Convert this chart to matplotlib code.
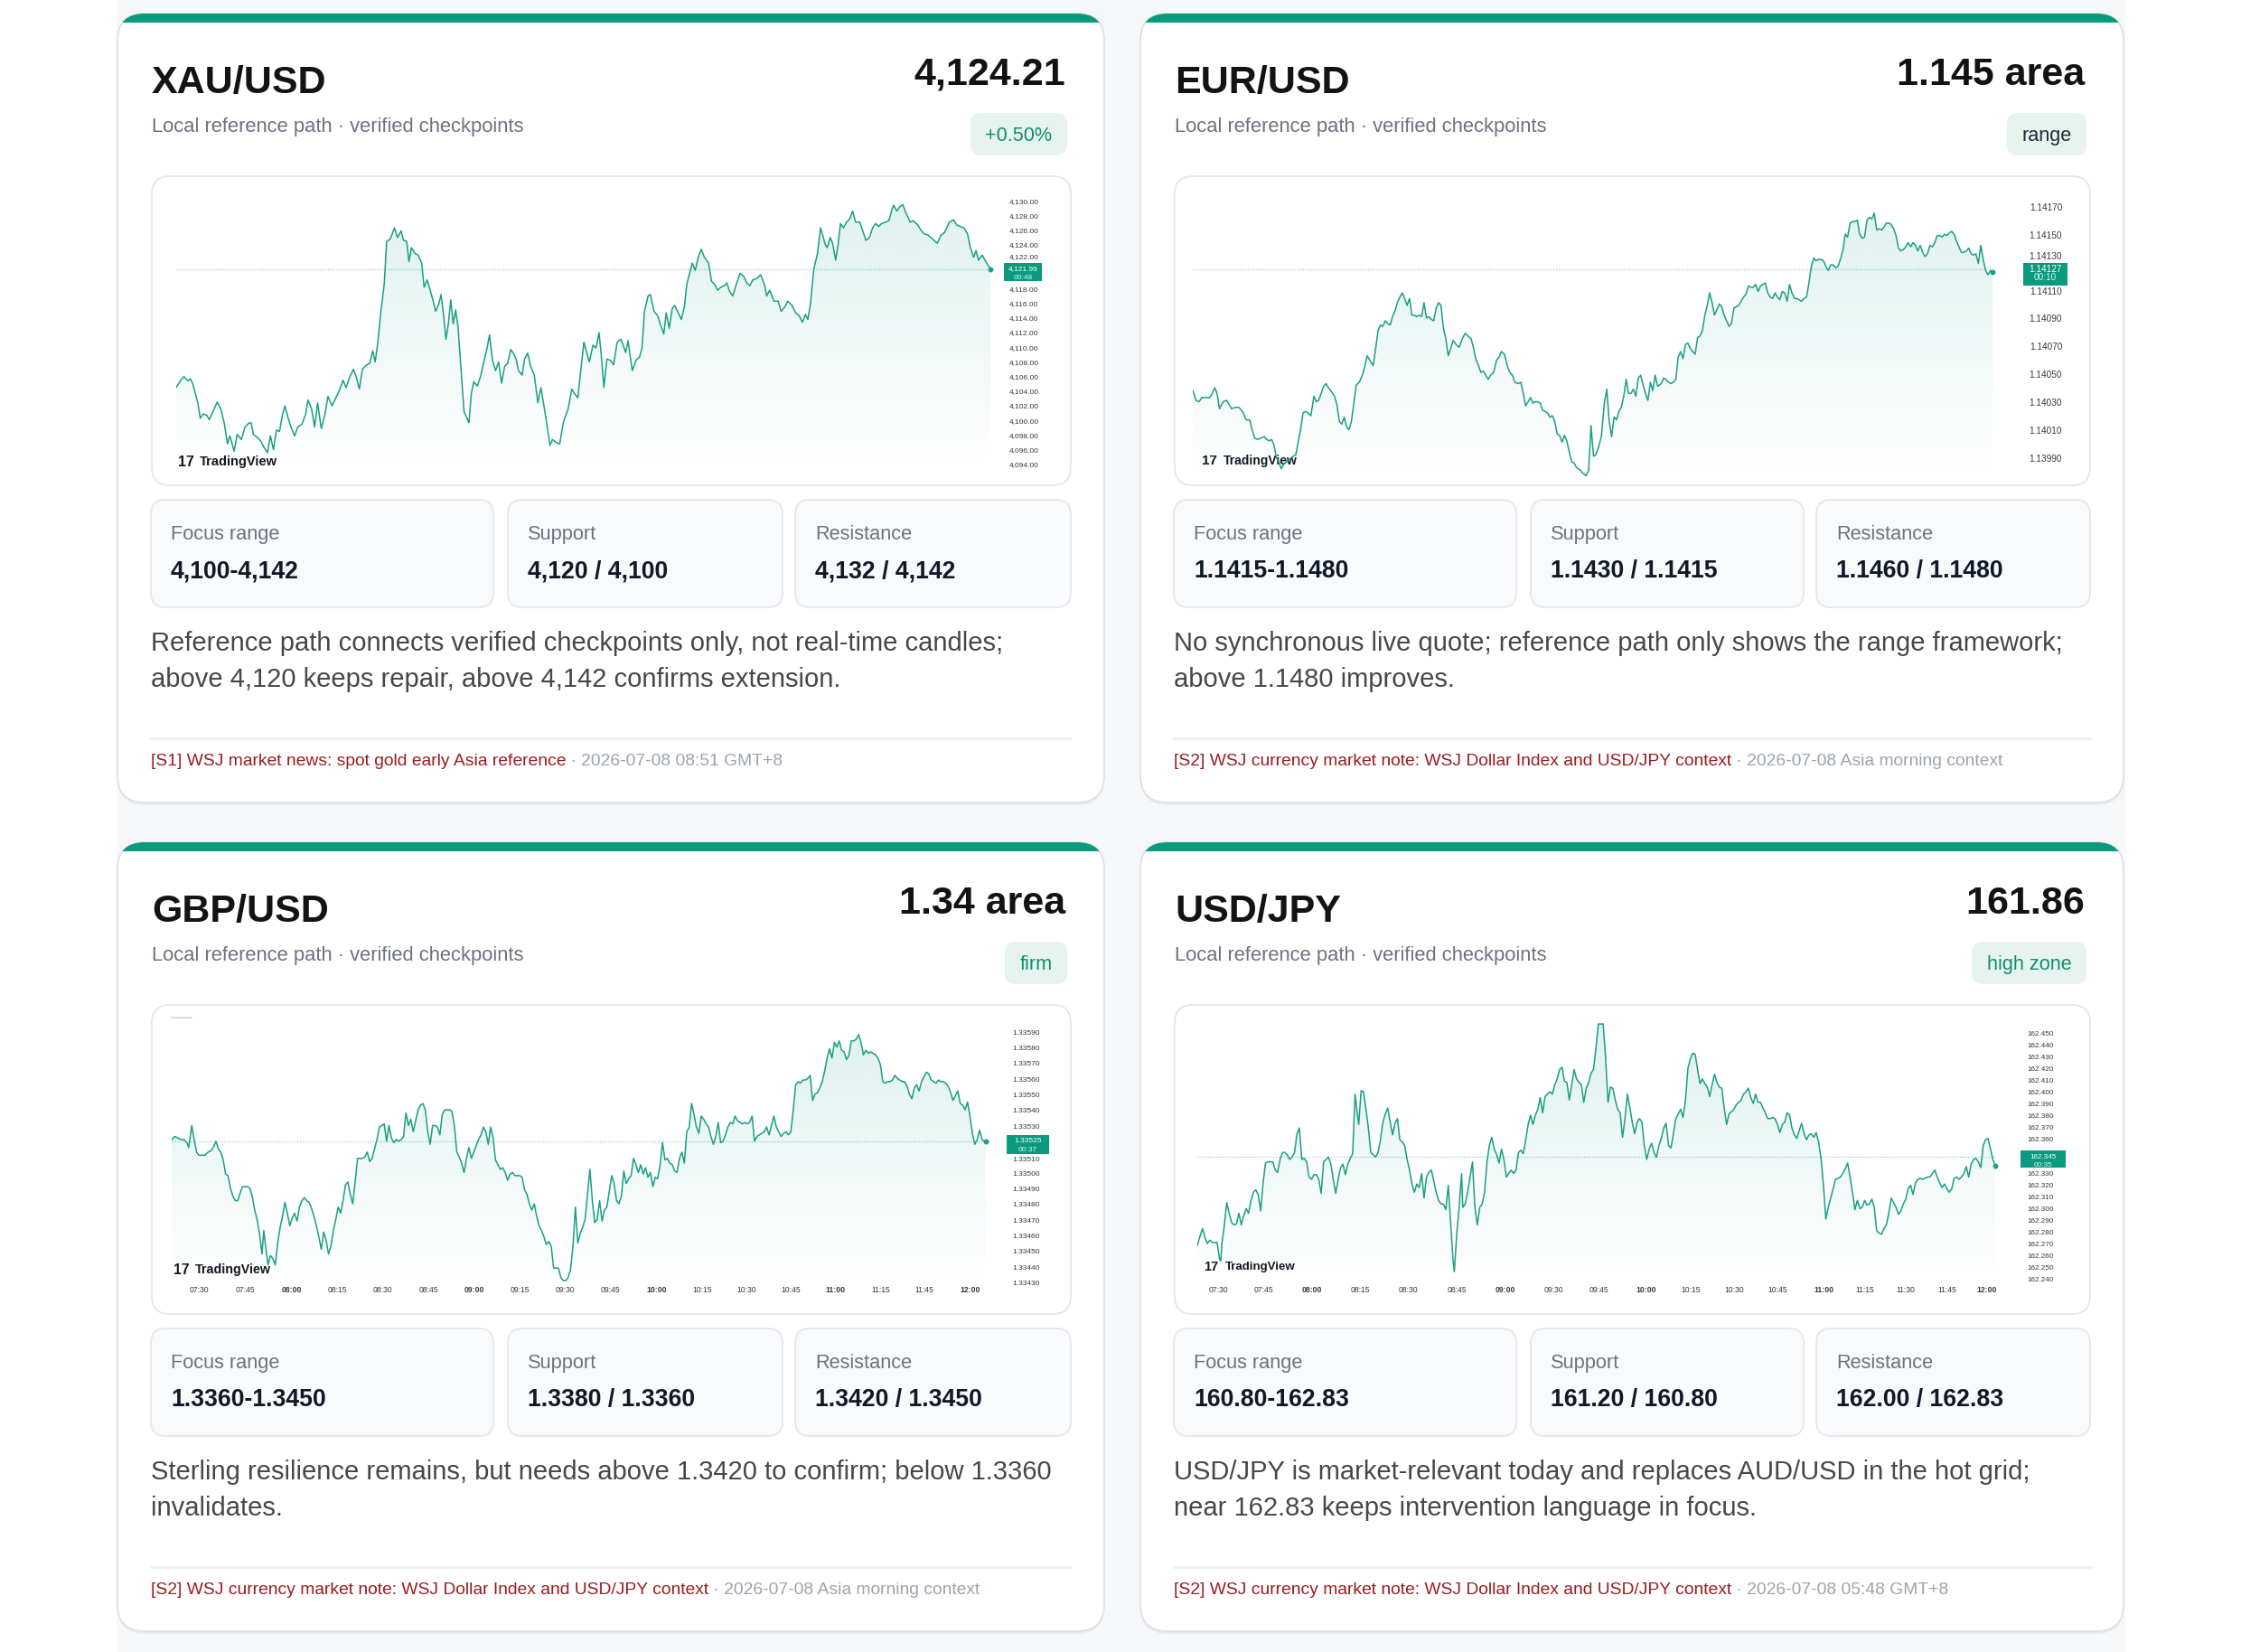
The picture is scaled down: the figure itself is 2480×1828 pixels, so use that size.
import numpy as np
import matplotlib
matplotlib.use("Agg")
import matplotlib.pyplot as plt
import matplotlib.colors as mcolors
from matplotlib.patches import FancyBboxPatch, Rectangle, PathPatch
from matplotlib.transforms import blended_transform_factory

plt.rcParams['font.family'] = ['Liberation Sans', 'DejaVu Sans']

# ---------------------------------------------------------------- data
# XAU/USD reference path (bar position, price)
xau_t = [52,60,65,72,76,80,88,92,97,103,
         107,113,120,126,132,137,141,148,153,160,
         166,172,176,180,186,192,197,203,208,213,
         218,223,228,232,237,242,248,253,260,266,
         270,276,281,286,292,298,303,310,316,322,
         328,333,338,345,350,355,360,367,372,377,
         381,385,390,396,400,406,413,418,424,428,
         433,437,441,447,452,458,462,467,472,477,
         481,486,490,494,498,502,506,510,514,518,
         522,528,536,540,544,550,555,560,566,570,
         575,580,585,590,595,600,605,610,614,618,
         624,628,633,638,644,650,655,660,664,670,
         674,680,686,692,700,706,710,716,720,726,
         730,735,741,746,751,755,759,764,770,775,
         781,787,790,795,799,806,812,818,822,826,
         832,836,842,848,852,858,862,867,872,876,
         882,887,892,896,900,905,910,915,920,925,
         932,937,942,947,952,958,962,967,972,977,
         984,990,995,1000,1005,1012,1018,1025,1028,1033,
         1040,1047,1052,1058,1063,1070,1076,1082,1087,1092,
         1096,1100,1106,1112,1117,1120,1125,1128,1133,1137,
         1142,1146,1150,1155,1160,1165,1170,1175,1182,1186,
         1192,1198,1203,1208,1213,1218,1225,1230,1235,1238,
         1243,1248,1253,1258,1265,1270,1278,1282,1288,1295,
         1302,1310,1316,1322,1330,1337,1342,1348,1354,1360,
         1364,1370,1374,1378,1384,1390,1398]
xau_v = [4104.6,4105.6,4106.1,4105.5,4105.8,4105.0,4102.5,4100.4,4101.0,4100.8,
         4100.2,4101.3,4102.6,4101.7,4099.6,4096.9,4098.0,4095.9,4098.2,4097.5,
         4099.2,4099.7,4099.8,4098.2,4097.8,4097.3,4096.5,4095.7,4098.0,4096.1,
         4098.8,4098.6,4100.9,4102.1,4100.5,4099.2,4098.0,4099.2,4099.6,4100.9,
         4102.9,4101.7,4099.2,4102.5,4099.0,4100.9,4103.4,4102.1,4103.2,4104.2,
         4105.6,4104.6,4105.8,4107.1,4106.0,4104.4,4107.1,4107.7,4107.9,4109.6,
         4108.1,4110.4,4114.6,4118.7,4124.5,4124.9,4126.4,4125.1,4126.0,4124.7,
         4124.6,4121.8,4123.7,4122.9,4122.7,4121.6,4118.3,4119.3,4117.9,4116.4,
         4115.0,4116.0,4117.3,4114.6,4111.2,4113.3,4116.6,4113.3,4115.2,4112.9,
         4108.3,4101.3,4099.8,4103.8,4105.4,4104.8,4106.1,4107.9,4110.0,4111.8,
         4108.3,4106.9,4108.1,4105.2,4107.5,4107.9,4109.8,4109.2,4108.5,4106.9,
         4106.3,4108.5,4109.3,4107.5,4106.3,4102.5,4104.6,4102.1,4100.0,4096.7,
         4097.5,4097.1,4096.9,4099.8,4101.7,4104.4,4103.8,4103.2,4106.3,4110.8,
         4109.6,4108.1,4110.4,4110.0,4112.1,4108.8,4104.6,4108.5,4108.3,4107.7,
         4110.8,4111.2,4110.6,4109.4,4111.0,4106.9,4108.3,4108.8,4110.0,4115.0,
         4117.1,4117.3,4115.0,4114.4,4113.3,4111.9,4114.8,4112.7,4115.4,4115.8,
         4114.8,4113.9,4115.6,4118.7,4120.0,4121.6,4120.6,4122.4,4123.5,4122.4,
         4121.6,4119.1,4118.7,4117.9,4118.3,4118.5,4118.9,4117.7,4117.1,4118.5,
         4120.2,4119.8,4118.9,4118.5,4119.3,4119.5,4120.0,4118.5,4117.1,4117.9,
         4116.4,4116.4,4115.0,4115.6,4116.4,4115.8,4114.8,4114.4,4113.5,4114.6,
         4113.9,4115.8,4120.8,4122.9,4126.4,4125.6,4124.1,4123.7,4125.1,4124.3,
         4122.0,4124.1,4127.0,4126.4,4127.2,4127.6,4128.7,4127.2,4127.2,4126.2,
         4124.7,4125.1,4126.4,4127.0,4126.6,4127.0,4127.2,4127.4,4128.9,4129.5,
         4128.7,4129.3,4129.6,4128.5,4127.2,4127.4,4126.8,4126.2,4125.6,4125.4,
         4124.9,4124.3,4125.4,4125.8,4127.2,4127.5,4126.8,4126.6,4126.4,4125.6,
         4123.9,4122.4,4123.3,4122.0,4122.7,4121.8,4120.8]

# EUR/USD reference path
eur_t = [30,35,40,45,50,58,62,66,70,74,
         80,86,90,94,100,106,112,118,124,128,
         132,137,142,148,152,156,160,164,168,172,
         176,180,184,190,196,200,204,208,212,216,
         220,225,230,234,238,242,246,250,254,258,
         264,268,272,276,280,284,288,292,296,300,
         305,310,314,318,322,328,332,336,340,344,
         348,352,356,360,364,368,372,376,380,384,
         388,392,396,400,404,408,412,416,420,424,
         428,432,436,440,444,448,452,456,460,465,
         470,476,480,485,490,494,498,502,506,510,
         514,518,522,527,532,536,540,545,550,554,
         558,562,568,572,575,580,584,588,592,596,
         600,604,608,612,616,620,624,628,632,636,
         640,644,648,652,656,660,664,670,674,680,
         684,688,692,696,700,705,710,714,718,722,
         726,730,734,738,742,746,750,754,758,762,
         766,770,774,778,782,786,790,794,798,804,
         808,812,816,820,824,828,832,836,840,844,
         848,852,856,860,864,868,872,876,880,884,
         888,892,896,900,904,908,912,916,920,924,
         928,932,936,940,944,948,952,956,960,964,
         968,972,976,980,984,988,992,996,1000,1004,
         1008,1012,1016,1020,1024,1028,1032,1036,1040,1044,
         1048,1052,1056,1060,1064,1068,1072,1076,1080,1084,
         1088,1092,1096,1100,1104,1108,1112,1116,1120,1124,
         1128,1132,1136,1140,1144,1148,1152,1156,1160,1164,
         1168,1172,1176,1180,1184,1188,1192,1196,1200,1204,
         1208,1212,1216,1220,1224,1228,1232,1236,1240,1244,
         1248,1252,1256,1260,1264,1268,1272,1276,1280,1284,
         1288,1292,1296,1300,1304,1308,1312,1316,1320,1324,
         1328,1332,1336,1340,1344,1348,1352]
eur_v = [1.14039,1.14032,1.14031,1.14034,1.14034,1.14034,1.14037,1.14041,1.14037,1.14026,
         1.14031,1.14032,1.14029,1.14026,1.14027,1.14027,1.14024,1.14018,1.14018,1.14011,
         1.14005,1.14004,1.14005,1.14006,1.14004,1.14003,1.14004,1.14000,1.13991,1.13988,
         1.13983,1.13986,1.13988,1.13990,1.13992,1.13993,1.14002,1.14011,1.14023,1.14024,
         1.14023,1.14021,1.14035,1.14031,1.14032,1.14037,1.14042,1.14044,1.14041,1.14039,
         1.14035,1.14029,1.14017,1.14015,1.14020,1.14013,1.14011,1.14017,1.14030,1.14043,
         1.14045,1.14050,1.14056,1.14064,1.14061,1.14057,1.14069,1.14082,1.14086,1.14085,
         1.14089,1.14087,1.14086,1.14092,1.14096,1.14102,1.14106,1.14109,1.14105,1.14100,
         1.14105,1.14093,1.14093,1.14092,1.14093,1.14092,1.14102,1.14091,1.14092,1.14090,
         1.14089,1.14098,1.14102,1.14100,1.14084,1.14076,1.14064,1.14069,1.14075,1.14072,
         1.14070,1.14077,1.14080,1.14078,1.14076,1.14069,1.14061,1.14057,1.14052,1.14053,
         1.14050,1.14047,1.14050,1.14052,1.14061,1.14063,1.14067,1.14065,1.14056,1.14052,
         1.14050,1.14045,1.14044,1.14045,1.14039,1.14028,1.14031,1.14034,1.14030,1.14031,
         1.14031,1.14030,1.14025,1.14024,1.14023,1.14020,1.14021,1.14017,1.14008,1.14007,
         1.14002,1.14007,1.14003,1.13995,1.13988,1.13987,1.13984,1.13982,1.13980,1.13978,
         1.13982,1.14014,1.13992,1.13993,1.13998,1.14006,1.14030,1.14040,1.14017,1.14006,
         1.14020,1.14018,1.14024,1.14027,1.14035,1.14047,1.14037,1.14037,1.14040,1.14035,
         1.14048,1.14050,1.14043,1.14037,1.14032,1.14045,1.14039,1.14050,1.14042,1.14044,
         1.14048,1.14047,1.14045,1.14044,1.14045,1.14047,1.14063,1.14067,1.14062,1.14072,
         1.14073,1.14069,1.14067,1.14065,1.14077,1.14078,1.14082,1.14093,1.14100,1.14109,
         1.14102,1.14093,1.14097,1.14101,1.14099,1.14093,1.14089,1.14085,1.14087,1.14098,
         1.14099,1.14100,1.14103,1.14106,1.14108,1.14114,1.14113,1.14113,1.14115,1.14110,
         1.14114,1.14115,1.14116,1.14109,1.14106,1.14105,1.14109,1.14106,1.14104,1.14110,
         1.14109,1.14103,1.14115,1.14109,1.14105,1.14105,1.14104,1.14103,1.14105,1.14106,
         1.14116,1.14128,1.14134,1.14132,1.14133,1.14133,1.14132,1.14128,1.14125,1.14129,
         1.14129,1.14127,1.14128,1.14133,1.14139,1.14151,1.14149,1.14159,1.14160,1.14160,
         1.14161,1.14151,1.14148,1.14149,1.14161,1.14163,1.14162,1.14166,1.14154,1.14155,
         1.14154,1.14156,1.14159,1.14159,1.14158,1.14155,1.14150,1.14141,1.14139,1.14140,
         1.14142,1.14145,1.14142,1.14145,1.14143,1.14139,1.14143,1.14138,1.14135,1.14137,
         1.14143,1.14142,1.14145,1.14150,1.14150,1.14149,1.14151,1.14150,1.14152,1.14153,
         1.14151,1.14146,1.14142,1.14138,1.14138,1.14139,1.14141,1.14137,1.14136,1.14137,
         1.14130,1.14143,1.14133,1.14125,1.14122,1.14125,1.14124]

# GBP/USD reference path (regular 1-minute grid after the first bars)
gbp_t = [45,50,55,60,65,70,73,76,78,82,
         86,90,95,100,105,110,115,118,122,126,
         130,134,138,142,146,150,154,158,162,166,
         170,174,178,182,186,190,194,197,200,204] + list(range(208, 1389, 4)) + [1390]
gbp_v = [1.33522,1.33524,1.33523,1.33522,1.33522,1.33520,1.33517,1.33525,1.33531,1.33522,
         1.33514,1.33512,1.33512,1.33512,1.33514,1.33515,1.33518,1.33521,1.33516,1.33514,
         1.33509,1.33500,1.33499,1.33491,1.33486,1.33483,1.33483,1.33488,1.33492,1.33492,
         1.33492,1.33491,1.33486,1.33477,1.33471,1.33462,1.33449,1.33464,1.33454,1.33442,
         1.33448,1.33446,1.33442,1.33456,1.33466,1.33473,1.33482,1.33475,1.33467,1.33472,
         1.33475,1.33470,1.33479,1.33483,1.33485,1.33483,1.33482,1.33478,1.33473,1.33467,
         1.33460,1.33452,1.33463,1.33458,1.33449,1.33454,1.33464,1.33471,1.33479,1.33475,
         1.33483,1.33493,1.33495,1.33487,1.33481,1.33495,1.33510,1.33510,1.33510,1.33511,
         1.33514,1.33508,1.33510,1.33516,1.33522,1.33530,1.33531,1.33532,1.33521,1.33531,
         1.33523,1.33520,1.33522,1.33521,1.33522,1.33524,1.33539,1.33531,1.33535,1.33527,
         1.33534,1.33541,1.33544,1.33545,1.33541,1.33527,1.33519,1.33531,1.33531,1.33530,
         1.33525,1.33538,1.33541,1.33541,1.33541,1.33540,1.33531,1.33514,1.33511,1.33507,
         1.33501,1.33510,1.33517,1.33510,1.33514,1.33518,1.33522,1.33525,1.33530,1.33527,
         1.33519,1.33530,1.33523,1.33509,1.33506,1.33503,1.33504,1.33501,1.33496,1.33500,
         1.33501,1.33499,1.33499,1.33499,1.33498,1.33490,1.33487,1.33481,1.33477,1.33481,
         1.33473,1.33467,1.33464,1.33460,1.33455,1.33457,1.33454,1.33440,1.33440,1.33440,
         1.33434,1.33432,1.33432,1.33434,1.33439,1.33454,1.33479,1.33456,1.33462,1.33466,
         1.33471,1.33487,1.33503,1.33483,1.33469,1.33471,1.33483,1.33470,1.33477,1.33479,
         1.33489,1.33499,1.33494,1.33483,1.33481,1.33486,1.33502,1.33494,1.33497,1.33499,
         1.33510,1.33506,1.33501,1.33506,1.33500,1.33504,1.33498,1.33501,1.33492,1.33498,
         1.33497,1.33506,1.33520,1.33509,1.33510,1.33507,1.33506,1.33502,1.33501,1.33510,
         1.33514,1.33507,1.33527,1.33530,1.33545,1.33538,1.33530,1.33526,1.33537,1.33535,
         1.33532,1.33530,1.33524,1.33519,1.33524,1.33533,1.33520,1.33521,1.33525,1.33530,
         1.33533,1.33532,1.33537,1.33534,1.33533,1.33532,1.33533,1.33532,1.33533,1.33537,
         1.33521,1.33524,1.33525,1.33526,1.33527,1.33530,1.33525,1.33531,1.33537,1.33530,
         1.33527,1.33524,1.33526,1.33527,1.33525,1.33527,1.33541,1.33557,1.33559,1.33558,
         1.33560,1.33560,1.33561,1.33563,1.33547,1.33551,1.33552,1.33555,1.33559,1.33566,
         1.33574,1.33580,1.33574,1.33584,1.33581,1.33585,1.33579,1.33578,1.33573,1.33576,
         1.33585,1.33585,1.33586,1.33589,1.33584,1.33576,1.33579,1.33577,1.33578,1.33577,
         1.33576,1.33574,1.33570,1.33559,1.33558,1.33559,1.33559,1.33560,1.33563,1.33561,
         1.33560,1.33559,1.33559,1.33556,1.33551,1.33548,1.33555,1.33557,1.33553,1.33559,
         1.33562,1.33565,1.33564,1.33560,1.33559,1.33558,1.33560,1.33559,1.33559,1.33558,
         1.33556,1.33552,1.33547,1.33550,1.33553,1.33545,1.33544,1.33541,1.33546,1.33537,
         1.33526,1.33519,1.33522,1.33528,1.33522,1.33521,
         1.33521]

# USD/JPY reference path
jpy_t = ([37,41,46,50,54,58,62,66,70,74,76,78] + list(range(82, 299, 4)) + [302,304]
         + list(range(308, 457, 4)) + [460,462,466,470,474,476] + list(range(480, 1357, 4)))
jpy_v = [162.269,162.276,162.284,162.276,162.271,162.274,162.272,162.272,162.272,162.258,162.256,162.271,
         162.287,162.306,162.297,162.289,162.287,162.288,162.297,162.287,162.295,162.301,
         162.297,162.308,162.315,162.317,162.313,162.299,162.323,162.340,162.341,162.341,
         162.341,162.334,162.332,162.343,162.349,162.349,162.347,162.343,162.345,162.349,
         162.365,162.370,162.343,162.344,162.341,162.328,162.326,162.330,162.330,162.326,
         162.314,162.341,162.343,162.345,162.339,162.326,162.314,162.326,162.336,162.339,
         162.330,162.339,162.344,162.348,162.399,
         162.381,162.373,
         162.402,162.401,162.386,162.370,162.349,162.347,162.345,162.349,162.360,162.375,
         162.382,162.387,162.375,162.364,162.374,162.378,162.360,162.358,162.355,162.343,
         162.334,162.322,162.315,162.322,162.319,162.331,162.310,162.328,162.332,162.334,
         162.325,162.315,162.308,162.305,162.305,162.300,162.321,162.289,
         162.256,162.247,162.279,162.302,162.331,162.302,
         162.305,162.315,162.328,162.341,162.302,162.287,162.302,162.305,162.315,162.341,
         162.355,162.362,162.352,162.347,162.340,162.352,162.343,162.328,162.331,162.334,
         162.331,162.334,162.349,162.351,162.348,162.360,162.373,162.381,162.373,162.381,
         162.386,162.396,162.383,162.397,162.399,162.401,162.399,162.407,162.412,162.420,
         162.422,162.410,162.409,162.394,162.407,162.420,162.412,162.409,162.407,162.392,
         162.404,162.409,162.417,162.420,162.438,162.459,162.459,162.459,162.430,162.392,
         162.405,162.404,162.394,162.386,162.383,162.362,162.378,162.399,162.388,162.375,
         162.365,162.375,162.378,162.375,162.355,162.343,162.352,162.357,162.349,162.345,
         162.355,162.361,162.370,162.374,162.355,162.353,162.365,162.378,162.382,162.386,
         162.379,162.394,162.421,162.429,162.434,162.433,162.420,162.408,162.412,162.408,
         162.405,162.397,162.407,162.416,162.409,162.405,162.404,162.387,162.373,162.382,
         162.384,162.386,162.390,162.392,162.394,162.399,162.401,162.404,162.396,162.391,
         162.399,162.392,162.392,162.387,162.383,162.378,162.378,162.379,162.378,162.373,
         162.366,162.373,162.375,162.383,162.381,162.370,162.364,162.361,162.368,162.374,
         162.365,162.360,162.364,162.365,162.362,162.366,162.358,162.344,162.321,162.292,
         162.302,162.310,162.318,162.326,162.327,162.328,162.331,162.335,162.340,162.328,
         162.315,162.300,162.308,162.301,162.302,162.308,162.304,162.305,162.309,162.302,
         162.282,162.280,162.279,162.284,162.287,162.297,162.310,162.306,162.302,162.296,
         162.299,162.305,162.309,162.318,162.321,162.313,162.323,162.326,162.327,162.326,
         162.327,162.328,162.328,162.331,162.334,162.328,162.323,162.319,162.322,162.318,
         162.315,162.318,162.327,162.328,162.326,162.328,162.331,162.337,162.328,162.339,
         162.343,162.344,162.341,162.336,162.355,162.360,162.361,162.352,162.343,162.338]

price_marks = [4120.8, 1.14126, 1.33521, 162.345]
mark_labels = [("4,121.99", "00:48"), ("1.14127", "00:10"), ("1.33525", "00:37"), ("162.345", "00:35")]

xau_yticks = [4130,4128,4126,4124,4122,4118,4116,4114,4112,4110,4108,4106,4104,4102,4100,4098,4096,4094]
eur_yticks = [1.14170,1.14150,1.14130,1.14110,1.14090,1.14070,1.14050,1.14030,1.14010,1.13990]
gbp_yticks = [1.33590,1.33580,1.33570,1.33560,1.33550,1.33540,1.33530,1.33510,1.33500,1.33490,
              1.33480,1.33470,1.33460,1.33450,1.33440,1.33430]
jpy_yticks = [162.450,162.440,162.430,162.420,162.410,162.400,162.390,162.380,162.370,162.360,
              162.330,162.320,162.310,162.300,162.290,162.280,162.270,162.260,162.250,162.240]

gbp_xtick_pos = [90,167,243,319,394,469,545,620,695,770,847,921,995,1068,1141,1216,1289,1365]
gbp_xtick_lab = ["07:30","07:45","08:00","08:15","08:30","08:45","09:00","09:15","09:30","09:45",
                 "10:00","10:15","10:30","10:45","11:00","11:15","11:45","12:00"]
jpy_xtick_pos = [72,147,226,307,386,466,546,626,701,779,853,924,997,1073,1141,1208,1276,1342]
jpy_xtick_lab = ["07:30","07:45","08:00","08:15","08:30","08:45","09:00","09:30","09:45","10:00",
                 "10:15","10:30","10:45","11:00","11:15","11:30","11:45","12:00"]

pairs = ["XAU/USD", "EUR/USD", "GBP/USD", "USD/JPY"]
headline = ["4,124.21", "1.145 area", "1.34 area", "161.86"]
badges = ["+0.50%", "range", "firm", "high zone"]
stat_names = ["Focus range", "Support", "Resistance"]
stat_vals = [["4,100-4,142", "4,120 / 4,100", "4,132 / 4,142"],
             ["1.1415-1.1480", "1.1430 / 1.1415", "1.1460 / 1.1480"],
             ["1.3360-1.3450", "1.3380 / 1.3360", "1.3420 / 1.3450"],
             ["160.80-162.83", "161.20 / 160.80", "162.00 / 162.83"]]
notes = [["Reference path connects verified checkpoints only, not real-time candles;",
          "above 4,120 keeps repair, above 4,142 confirms extension."],
         ["No synchronous live quote; reference path only shows the range framework;",
          "above 1.1480 improves."],
         ["Sterling resilience remains, but needs above 1.3420 to confirm; below 1.3360",
          "invalidates."],
         ["USD/JPY is market-relevant today and replaces AUD/USD in the hot grid;",
          "near 162.83 keeps intervention language in focus."]]
src_red = ["[S1] WSJ market news: spot gold early Asia reference",
           "[S2] WSJ currency market note: WSJ Dollar Index and USD/JPY context",
           "[S2] WSJ currency market note: WSJ Dollar Index and USD/JPY context",
           "[S2] WSJ currency market note: WSJ Dollar Index and USD/JPY context"]
src_grey = [" \u00b7 2026-07-08 08:51 GMT+8", " \u00b7 2026-07-08 Asia morning context",
            " \u00b7 2026-07-08 Asia morning context", " \u00b7 2026-07-08 05:48 GMT+8"]

# ---------------------------------------------------------------- style
W, H, DPI = 2480, 1828, 100
LINE = '#1a9f84'
TEAL = '#0a9b7f'
BOXG = '#0b9a7d'
INK = '#131313'

fig = plt.figure(figsize=(W / DPI, H / DPI), dpi=DPI)
fig.patch.set_facecolor('white')
bg = fig.add_axes([0, 0, 1, 1])
bg.set_xlim(0, W)
bg.set_ylim(H, 0)
bg.axis('off')
renderer = fig.canvas.get_renderer()


def rbox(x0, y0, x1, y1, r, fc, ec='none', lw=0, z=1):
    p = FancyBboxPatch((x0, y0), x1 - x0, y1 - y0,
                       boxstyle=f"round,pad=0,rounding_size={r}",
                       fc=fc, ec=ec, lw=lw, zorder=z)
    bg.add_patch(p)
    return p


def txt(x, y, s, size, color, weight='normal', ha='left', va='baseline', z=5, **kw):
    return bg.text(x, y, s, fontsize=size, color=color, fontweight=weight,
                   ha=ha, va=va, zorder=z, **kw)


def width_of(t):
    return t.get_window_extent(renderer).width


# page container
bg.add_patch(Rectangle((129, 0), 2223, H, fc='#f6f7f8', ec='none', zorder=0))

CH = 873
card_xy = [(130, 15), (1262, 15), (130, 932), (1262, 932)]
card_w = [1092, 1088, 1092, 1088]

for i, (cx, cy) in enumerate(card_xy):
    CW = card_w[i]
    d = 1092 - CW          # narrower right column
    R = cx + CW - 37       # inner right edge
    rbox(cx, cy + 2, cx + CW, cy + CH + 3, 30, '#e9ecef', z=1)
    rbox(cx, cy, cx + CW, cy + CH, 30, 'white', '#dde2e8', 1.3, z=2)
    tb = rbox(cx, cy, cx + CW, cy + CH, 30, TEAL, z=3)
    clip = Rectangle((cx - 2, cy - 2), CW + 4, 12, transform=bg.transData)
    tb.set_clip_path(clip)
    # header
    txt(cx + 38, cy + 88, pairs[i], 31, INK, 'bold')
    txt(R - 6, cy + 79, headline[i], 31, INK, 'bold', ha='right')
    txt(cx + 38, cy + 131, "Local reference path \u00b7 verified checkpoints", 15.8, '#6b7280')
    bcol = '#1f2937' if badges[i] == 'range' else '#0f8f6f'
    bt = txt(0, 0, badges[i], 15.6, bcol)
    bw = width_of(bt) + 33
    bx1 = R - 4
    bt.set_position((bx1 - bw / 2, cy + 141))
    bt.set_ha('center')
    rbox(bx1 - bw, cy + 110, bx1, cy + 157, 12, '#e7f4ee', z=4)
    # chart frame
    rbox(cx + 38, cy + 180, R, cy + 522, 20, 'white', '#e3e6ea', 1.3, z=4)
    # stats
    spans = [(37, 416), (432, 736 - d / 2), (750 - d / 2, 1055 - d)]
    for (bx0, bxe), name, val in zip(spans, stat_names, stat_vals[i]):
        rbox(cx + bx0, cy + 538, cx + bxe, cy + 657, 16, '#f9fafb', '#e4e7eb', 1.3, z=4)
        txt(cx + bx0 + 22, cy + 582, name, 15.7, '#6b7280')
        txt(cx + bx0 + 22, cy + 624, val, 19.2, '#111827', 'bold')
    # note
    txt(cx + 37, cy + 705, notes[i][0], 21.0, '#474747')
    txt(cx + 37, cy + 745, notes[i][1], 21.0, '#474747')
    bg.plot([cx + 37, R], [cy + 802, cy + 802], color='#eceef1', lw=1.8, zorder=4)
    rt = txt(cx + 37, cy + 832, src_red[i], 13.9, '#9b1c20')
    txt(cx + 37 + width_of(rt), cy + 832, src_grey[i], 13.9, '#9ca3af')


def ylim_from(hi, lo, top_px, bot_px):
    (vh, ph), (vl, pl) = hi, lo
    s = (vh - vl) / (pl - ph)
    return vh + (ph - bot_px) * s, vh + (ph - top_px) * s


def draw_chart(t, v, mark, mlab, hi, lo, xpx, ypx, yticks, fmt, lab_x, lab_fs,
               box_x, box_dn, logo_x, logo_y, logo_fs, xt_pos=None, xt_lab=None):
    x0, x1 = xpx
    y0, y1 = ypx
    ax = fig.add_axes([x0 / W, 1 - y1 / H, (x1 - x0) / W, (y1 - y0) / H])
    ax.axis('off')
    ylo, yhi = ylim_from(hi, lo, y0, y1)
    t = np.asarray(t, float)
    v = np.asarray(v, float)
    poly = ax.fill_between(t, v, ylo, facecolor='none', edgecolor='none')
    patch = PathPatch(poly.get_paths()[0], transform=ax.transData, fc='none', ec='none')
    ax.add_patch(patch)
    grad = np.zeros((256, 1, 4))
    grad[..., :3] = mcolors.to_rgb(LINE)
    grad[:, 0, 3] = np.linspace(0.15, 0.0, 256)
    im = ax.imshow(grad, aspect='auto', extent=[t[0], t[-1], ylo, yhi], origin='upper',
                   zorder=1, interpolation='bilinear')
    im.set_clip_path(patch)
    ax.axhline(mark, color=LINE, lw=0.8, ls=(0, (1, 1.6)), alpha=0.55, zorder=2)
    ax.plot(t, v, color=LINE, lw=1.1, zorder=3, solid_joinstyle='round')
    ax.plot([t[-1]], [v[-1]], 'o', ms=3.2, color=LINE, zorder=4, clip_on=False)
    ax.set_xlim(t[0], t[-1])
    ax.set_ylim(ylo, yhi)

    inv = bg.transData.inverted()

    def ypix(val):
        return inv.transform(ax.transData.transform((t[0], val)))[1]

    my = ypix(mark)
    btop, bbot = my - 7, my + box_dn
    half = 4.5
    for tv in yticks:
        py = ypix(tv)
        if py + half > btop - 1 and py - half < bbot + 1:
            py = btop - half - 2 if py < my else bbot + half + 2
        txt(lab_x, py, fmt(tv), lab_fs, '#383838', ha='center', va='center', z=6)
    bg.add_patch(Rectangle((box_x[0], btop), box_x[1] - box_x[0], bbot - btop,
                           fc=BOXG, ec='none', zorder=7))
    txt((box_x[0] + box_x[1]) / 2, my, mlab[0], lab_fs, 'white', ha='center', va='center', z=8)
    txt((box_x[0] + box_x[1]) / 2, my + 9.5, mlab[1], lab_fs, '#d8f3ec', ha='center', va='center', z=8)
    # watermark
    txt(logo_x, logo_y, "17", logo_fs + 1, '#131722', 'bold', va='center', z=6)
    txt(logo_x + 24, logo_y, "TradingView", logo_fs, '#131722', 'bold', va='center', z=6)
    if xt_pos is not None:
        tr = blended_transform_factory(ax.transData, bg.transData)
        for p, lab in zip(xt_pos, xt_lab):
            bold = lab.endswith(":00")
            bg.text(p, 1427, lab, transform=tr, fontsize=6.2, color='#383838',
                    fontweight='bold' if bold else 'normal', ha='center', va='center', zorder=6)
    return ax


draw_chart(xau_t, xau_v, price_marks[0], mark_labels[0], (4130, 223.05), (4094, 514.7),
           (194.8, 1096.2), (200, 517), xau_yticks, lambda x: f"{x:,.2f}", 1133, 6.0,
           (1111, 1153), 13, 197, 511, 10.5)
draw_chart(eur_t, eur_v, price_marks[1], mark_labels[1], (1.14170, 229.8), (1.13990, 507.9),
           (1320.1, 2205.4), (200, 528), eur_yticks, lambda x: f"{x:.5f}", 2264, 7.2,
           (2239, 2288), 18, 1330, 510, 10.0)
draw_chart(gbp_t, gbp_v, price_marks[2], mark_labels[2], (1.33590, 1143.05), (1.33430, 1420.55),
           (190.1, 1090.8), (1118, 1421), gbp_yticks, lambda x: f"{x:.5f}", 1136, 6.0,
           (1114, 1161), 14, 192, 1405, 10.3, gbp_xtick_pos, gbp_xtick_lab)
draw_chart(jpy_t, jpy_v, price_marks[3], mark_labels[3], (162.450, 1144.7), (162.240, 1416.2),
           (1324.8, 2208.1), (1118, 1418), jpy_yticks, lambda x: f"{x:.3f}", 2258, 5.9,
           (2236, 2286), 12, 1332, 1402, 9.5, jpy_xtick_pos, jpy_xtick_lab)

# small grey dash in the GBP frame corner
bg.plot([190, 212], [1126, 1126], color='#d4d7dc', lw=1.2, zorder=6)

fig.savefig("out.png", dpi=DPI, facecolor='white')
